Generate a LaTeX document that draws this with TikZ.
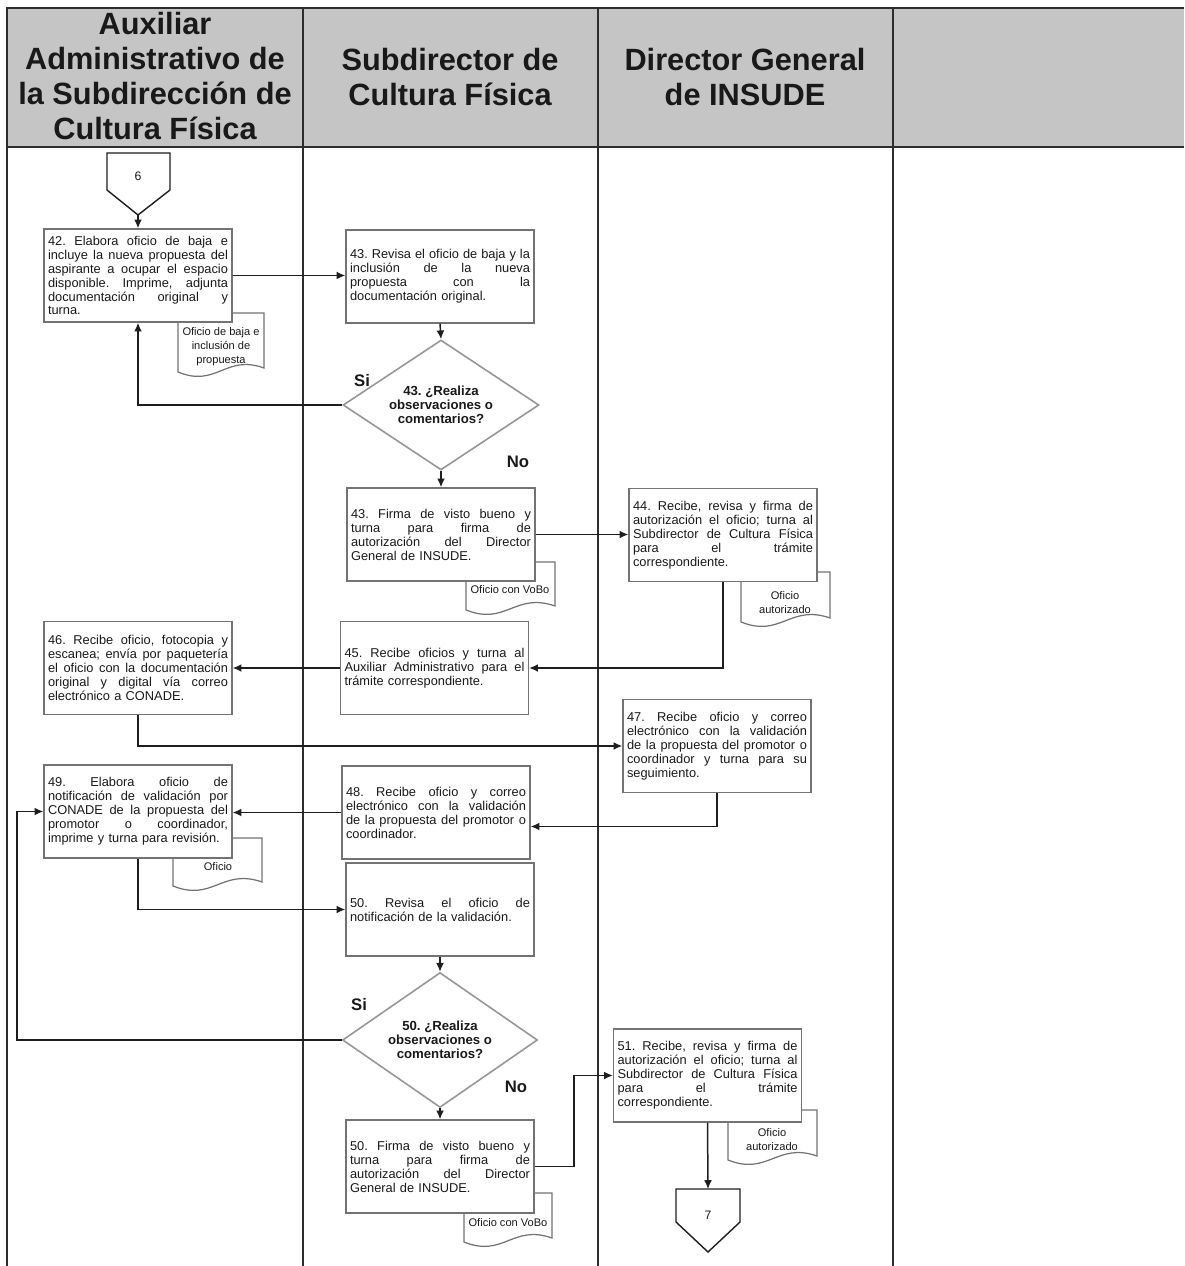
\documentclass[tikz,border=0pt]{standalone}
\usepackage{fontspec}
\setmainfont{Liberation Sans}
\usetikzlibrary{shapes.geometric,arrows.meta,calc}
\frenchspacing

\definecolor{headgray}{RGB}{197,197,197}
\definecolor{lanecol}{RGB}{45,45,45}
\definecolor{boxgray}{RGB}{115,115,115}
\definecolor{diagray}{RGB}{150,150,150}
\definecolor{linecol}{RGB}{30,30,30}
\definecolor{txtcol}{RGB}{25,25,25}

% text width of the activity boxes, used by the justified lines
\newlength\boxtw
\setlength\boxtw{3.6cm}
% one fully justified line: every interword space may grow
\newcommand{\jl}[1]{\leavevmode\hbox to \boxtw{\spaceskip=0.27em plus 1fil\relax
  \xspaceskip=0.27em plus 1fil\relax #1}\\}

% document symbol with a wavy lower edge: x-left, x-right, y-top, y-bottom
\newcommand{\docshape}[4]{%
  \pgfmathsetmacro\dw{#2-#1}%
  \draw[docline] (#1,#3) -- (#2,#3) -- (#2,#4-4)
    .. controls +(-0.45*\dw,-14) and +(0.45*\dw,16) .. (#1,#4) -- cycle;}

\begin{document}
\begin{tikzpicture}[x=0.02cm,y=-0.02cm,
  lane/.style={draw=lanecol,line width=0.7pt},
  head/.style={font=\fontsize{17.5}{19.85}\selectfont\bfseries,align=center,text=txtcol,inner sep=0pt},
  box/.style={draw=boxgray,fill=white,line width=0.8pt,minimum width=3.76cm,minimum height=1.86cm,
    text width=3.6cm,inner xsep=0.08cm,inner ysep=0pt,align=left,text=txtcol,
    font=\fontsize{7.3}{7.94}\selectfont},
  decision/.style={shape=diamond,draw=diagray,fill=white,line width=0.9pt,aspect=1.5,inner sep=0pt,
    align=center,text=txtcol,font=\fontsize{7.5}{7.94}\selectfont\bfseries},
  docline/.style={draw=boxgray,fill=white,line width=0.7pt},
  doctext/.style={align=center,inner sep=0pt,text=txtcol,font=\fontsize{6.3}{7.94}\selectfont},
  offpage/.style={draw=linecol,fill=white,line width=0.8pt},
  conlabel/.style={inner sep=0pt,text=txtcol,font=\fontsize{7}{7.5}\selectfont},
  answer/.style={inner sep=0pt,text=txtcol,font=\fontsize{9.5}{10}\selectfont\bfseries},
  arr/.style={draw=linecol,line width=0.85pt,-{Latex[length=5pt,width=4.5pt]}}]

\useasboundingbox (0,0) rectangle (1184,1266);

% swimlane table
\fill[headgray] (7,8) rectangle (1184,147);
\draw[lane] (7,1266) -- (7,8) -- (1184,8);
\draw[lane] (7,147) -- (1184,147);
\draw[lane] (303,8) -- (303,1266);
\draw[lane] (598,8) -- (598,1266);
\draw[lane] (893,8) -- (893,1266);

\node[head] (h1) at (155,76) {Auxiliar\\Administrativo de\\la Subdirección de\\Cultura Física};
\node[head] (h2) at (450,77) {Subdirector de\\Cultura Física};
\node[head] (h3) at (745,77) {Director General\\de INSUDE};

% off-page connector 6
\draw[offpage] (107,153) -- (170,153) -- (170,190) -- (138,215) -- (107,190) -- cycle;
\node[conlabel] (c6) at (138,176) {6};
\coordinate (c6tip) at (138,215);

% documents (drawn first, the boxes overlap their tops)
\docshape{178}{264}{313}{372}
\node[doctext] (d42) at (221,347) {Oficio de baja e\\inclusión de\\propuesta};
\docshape{466}{555}{562}{610}
\node[doctext] (d43) at (510,590) {Oficio con VoBo};
\docshape{741}{830}{572}{622}
\node[doctext] (d44) at (785,603) {Oficio\\autorizado};
\docshape{173}{262}{838}{886}
\node[doctext] (d49) at (218,867) {Oficio};
\docshape{464}{552}{1193}{1242}
\node[doctext] (d50) at (508,1223) {Oficio con VoBo};
\docshape{728}{817}{1110}{1160}
\node[doctext] (d51) at (772,1140) {Oficio\\autorizado};

% activities
\node[box] (n42) at (138,275.5) {\jl{42. Elabora oficio de baja e}\jl{incluye la nueva propuesta del}\jl{aspirante a ocupar el espacio}\jl{disponible. Imprime, adjunta}\jl{documentación original y}turna.};
\node[box] (n43a) at (440,276.5) {\jl{43. Revisa el oficio de baja y la}\jl{inclusión de la nueva}\jl{propuesta con la}documentación original.};
\node[decision,minimum width=3.92cm,minimum height=2.6cm] (dia43) at (441,405) {43. ¿Realiza\\observaciones o\\comentarios?};
\node[box] (n43b) at (441,534.5) {\jl{43. Firma de visto bueno y}\jl{turna para firma de}\jl{autorización del Director}General de INSUDE.};
\node[box] (n44) at (723,535) {\jl{44. Recibe, revisa y firma de}\jl{autorización el oficio; turna al}\jl{Subdirector de Cultura Física}\jl{para el trámite}correspondiente.};
\node[box] (n45) at (434.5,668) {\jl{45. Recibe oficios y turna al}\jl{Auxiliar Administrativo para el}trámite correspondiente.};
\node[box] (n46) at (138,668) {\jl{46. Recibe oficio, fotocopia y}\jl{escanea; envía por paquetería}\jl{el oficio con la documentación}\jl{original y digital vía correo}electrónico a CONADE.};
\node[box] (n47) at (717,746) {\jl{47. Recibe oficio y correo}\jl{electrónico con la validación}\jl{de la propuesta del promotor o}\jl{coordinador y turna para su}seguimiento.};
\node[box] (n48) at (436,812.5) {\jl{48. Recibe oficio y correo}\jl{electrónico con la validación}\jl{de la propuesta del promotor o}coordinador.};
\node[box] (n49) at (138,811.5) {\jl{49. Elabora oficio de}\jl{notificación de validación por}\jl{CONADE de la propuesta del}\jl{promotor o coordinador,}imprime y turna para revisión.};
\node[box] (n50a) at (440,909.5) {\jl{50. Revisa el oficio de}notificación de la validación.};
\node[decision,minimum width=3.9cm,minimum height=2.7cm] (dia50) at (440,1040) {50. ¿Realiza\\observaciones o\\comentarios?};
\node[box] (n50b) at (440,1166.5) {\jl{50. Firma de visto bueno y}\jl{turna para firma de}\jl{autorización del Director}General de INSUDE.};
\node[box] (n51) at (707.5,1075.5) {\jl{51. Recibe, revisa y firma de}\jl{autorización el oficio; turna al}\jl{Subdirector de Cultura Física}\jl{para el trámite}correspondiente.};

% off-page connector 7
\draw[offpage] (676,1189) -- (740,1189) -- (740,1222) -- (708,1252) -- (676,1222) -- cycle;
\node[conlabel] (c7) at (708,1215) {7};
\coordinate (c7top) at (708,1189);

% answers
\node[answer] (si43) at (362,381) {Si};
\node[answer] (no43) at (518,462) {No};
\node[answer] (si50) at (359,1005) {Si};
\node[answer] (no50) at (516,1087) {No};

% flow
\coordinate (loop) at (17,1040);
\draw[arr] (c6tip) -- (n42.north);
\draw[arr] (n42.east) -- (n42.east -| n43a.west);
\draw[arr] (n43a.south) -- (dia43.north);
\draw[arr] (dia43.west) -| (n42.south);
\draw[arr] (dia43.south) -- (n43b.north);
\draw[arr] (n43b.east) -- (n43b.east -| n44.west);
\draw[arr] (n44.south) |- (n45.east);
\draw[arr] (n45.west) -- (n45.west -| n46.east);
\draw[arr] (n46.south) |- (n47.west);
\draw[arr] (n47.south) |- ($(n48.east)+(0,14)$);
\draw[arr] (n48.west) -- (n48.west -| n49.east);
\draw[arr] (n49.south) |- (n50a.west);
\draw[arr] (n50a.south) -- (dia50.north);
\draw[arr] (dia50.west) -- (loop) |- (n49.west);
\draw[arr] (dia50.south) -- (n50b.north);
\draw[arr] (n50b.east) -| ($(n50b.east)!0.5!(n51.west)$) |- (n51.west);
\draw[arr] (n51.south) -- (c7top);
\end{tikzpicture}
\end{document}
